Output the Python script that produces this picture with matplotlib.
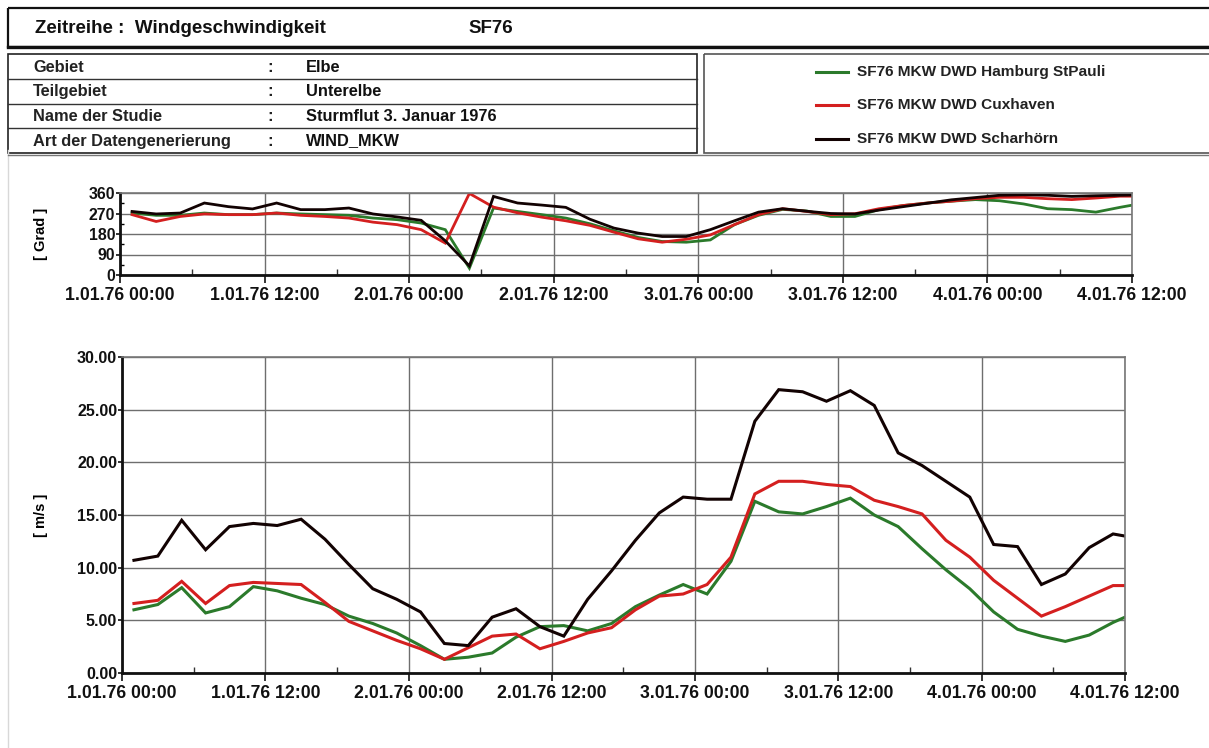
import matplotlib
matplotlib.use("Agg")
import matplotlib.pyplot as plt
from matplotlib.patches import Rectangle
from matplotlib.ticker import FormatStrFormatter, MultipleLocator

plt.rcParams['font.family'] = ['Liberation Sans', 'DejaVu Sans']

# ---------------- data ----------------
hours = [1, 3, 5, 7, 9, 11, 13, 15, 17, 19, 21, 23, 25, 27, 29, 31, 33, 35, 37, 39, 41,
         43, 45, 47, 49, 51, 53, 55, 57, 59, 61, 63, 65, 67, 69, 71, 73, 75, 77, 79, 81, 83, 85]

speed_scharhoern = [10.7, 11.1, 14.5, 11.7, 13.9, 14.2, 14.0, 14.6, 12.7, 10.3, 8.0, 7.0, 5.8, 2.8,
                    2.6, 5.3, 6.1, 4.4, 3.5, 7.0, 9.7, 12.6, 15.2, 16.7, 16.5, 16.5, 23.9, 26.9,
                    26.7, 25.8, 26.8, 25.4, 20.9, 19.7, 18.2, 16.7, 12.2, 12.0, 8.4, 9.4, 11.9,
                    13.2, 12.8]
speed_cuxhaven = [6.6, 6.9, 8.7, 6.6, 8.3, 8.6, 8.5, 8.4, 6.7, 4.9, 4.0, 3.1, 2.3, 1.3, 2.4, 3.5,
                  3.7, 2.3, 3.0, 3.8, 4.3, 6.0, 7.3, 7.5, 8.4, 11.0, 17.0, 18.2, 18.2, 17.9, 17.7,
                  16.4, 15.8, 15.1, 12.6, 11.0, 8.8, 7.1, 5.4, 6.3, 7.3, 8.3, 8.3]
speed_hamburg = [6.0, 6.5, 8.1, 5.7, 6.3, 8.2, 7.8, 7.1, 6.5, 5.4, 4.7, 3.8, 2.6, 1.3, 1.5, 1.9,
                 3.4, 4.4, 4.5, 4.0, 4.7, 6.3, 7.4, 8.4, 7.5, 10.6, 16.3, 15.3, 15.1, 15.8, 16.6,
                 15.0, 13.9, 11.8, 9.8, 8.0, 5.8, 4.15, 3.5, 3.0, 3.6, 4.8, 5.8]

dir_scharhoern = [279, 268, 272, 316, 300, 290, 316, 287, 287, 294, 268, 255, 240, 150, 40, 345,
                  316, 307, 297, 245, 206, 184, 169, 169, 199, 238, 276, 291, 280, 270, 268, 285,
                  300, 315, 330, 340, 350, 352, 350, 345, 348, 350, 352]
dir_cuxhaven = [265, 235, 257, 268, 265, 265, 272, 262, 257, 250, 232, 221, 199, 140, 358, 298,
                273, 254, 238, 218, 188, 159, 144, 157, 176, 221, 265, 291, 279, 265, 269, 291,
                305, 316, 324, 335, 341, 341, 335, 331, 338, 346, 346]
dir_hamburg = [272, 262, 262, 272, 265, 265, 272, 268, 265, 262, 250, 243, 228, 199, 30, 294,
               279, 265, 250, 225, 194, 165, 147, 144, 154, 221, 262, 288, 281, 257, 257, 287,
               305, 316, 324, 331, 326, 312, 291, 287, 276, 297, 316]

tick_hours = [0, 12, 24, 36, 48, 60, 72, 84]
tick_labels = ["1.01.76 00:00", "1.01.76 12:00", "2.01.76 00:00", "2.01.76 12:00",
               "3.01.76 00:00", "3.01.76 12:00", "4.01.76 00:00", "4.01.76 12:00"]

series_names = ["SF76 MKW DWD Hamburg StPauli", "SF76 MKW DWD Cuxhaven", "SF76 MKW DWD Scharhörn"]
series_colors = ["#2b7a2b", "#d41f1f", "#120202"]

header_labels = ["Gebiet", "Teilgebiet", "Name der Studie", "Art der Datengenerierung"]
header_values = ["Elbe", "Unterelbe", "Sturmflut 3. Januar 1976", "WIND_MKW"]

# ---------------- figure ----------------
W, H = 1209, 748
fig = plt.figure(figsize=(W / 100, H / 100), dpi=100)
fig.patch.set_facecolor("white")

# overlay in pixel coordinates for the header
ov = fig.add_axes([0, 0, 1, 1])
ov.set_xlim(0, W)
ov.set_ylim(H, 0)
ov.axis("off")
ov.set_zorder(0)

# left faint frame line
ov.plot([8, 8], [150, 748], color="#d8d8d8", lw=1.0)

# title box
ov.add_patch(Rectangle((8, 8), W + 10 - 8, 39, fill=False, ec="#111111", lw=1.6))
ov.plot([8, W], [47, 47], color="#111111", lw=2.4)
ov.text(35, 28, "Zeitreihe :  Windgeschwindigkeit", fontsize=13.5, fontweight="bold",
        va="center", ha="left", color="#111111")
ov.text(468, 28, "SF76", fontsize=13.5, fontweight="bold", va="center", ha="left", color="#111111")

# table box
ov.add_patch(Rectangle((8, 54), 689, 99, fill=False, ec="#222222", lw=1.2))
for yy in [79, 104, 128]:
    ov.plot([8, 697], [yy, yy], color="#333333", lw=1.0)
row_y = [67, 91, 116, 141]
for lab, val, yy in zip(header_labels, header_values, row_y):
    ov.text(33, yy, lab, fontsize=11.8, fontweight="bold", va="center", ha="left", color="#222222")
    ov.text(267, yy, ":", fontsize=11.8, fontweight="bold", va="center", ha="left", color="#222222")
    ov.text(306, yy, val, fontsize=11.8, fontweight="bold", va="center", ha="left", color="#111111")
ov.plot([8, W], [155, 155], color="#777777", lw=1.0)

# legend box
ov.add_patch(Rectangle((704, 54), W + 10 - 704, 99, fill=False, ec="#555555", lw=1.2))
leg_y = [72, 105, 139]
for name, col, yy in zip(series_names, series_colors, leg_y):
    ov.plot([816, 848], [yy, yy], color=col, lw=2.2)
    ov.text(857, yy, name, fontsize=11.1, fontweight="bold", va="center", ha="left", color="#222222")


def style_axes(ax):
    ax.set_xlim(0, 84)
    ax.set_xticks(tick_hours)
    ax.set_xticklabels(tick_labels)
    ax.xaxis.set_minor_locator(MultipleLocator(6))
    ax.grid(True, which="major", color="#6e6e6e", lw=1.0)
    ax.set_axisbelow(True)
    for s in ["left", "bottom"]:
        ax.spines[s].set_color("#111111")
        ax.spines[s].set_linewidth(2.0)
    for s in ["top", "right"]:
        ax.spines[s].set_color("#777777")
        ax.spines[s].set_linewidth(1.2)
    ax.tick_params(axis="x", which="major", direction="out", length=6, width=1.2,
                   labelsize=12.7, pad=3, colors="#111111")
    ax.tick_params(axis="x", which="minor", direction="in", length=4, width=1.0, colors="#333333")
    ax.tick_params(axis="y", which="major", direction="out", length=3, width=1.2, pad=0.5,
                   colors="#111111")
    for lab in ax.get_xticklabels() + ax.get_yticklabels():
        lab.set_fontweight("bold")


# top axes: direction
axt = fig.add_axes([120 / W, 1 - 275 / H, (1132 - 120) / W, (275 - 193) / H])
axt.set_zorder(2)
for vals, col in zip([dir_hamburg, dir_cuxhaven, dir_scharhoern], series_colors):
    axt.plot(hours, vals, color=col, lw=2.0, solid_joinstyle="miter")
axt.set_ylim(0, 360)
axt.set_yticks([0, 90, 180, 270, 360])
axt.yaxis.set_minor_locator(MultipleLocator(45))
style_axes(axt)
axt.tick_params(axis="y", which="major", labelsize=11.4)
axt.tick_params(axis="y", which="minor", direction="in", length=3, width=1.0)
for lab in axt.get_yticklabels():
    lab.set_fontweight("bold")
axt.set_ylabel("[ Grad ]", fontsize=10.5, fontweight="bold")
axt.yaxis.set_label_coords(-0.071, 0.5)

# bottom axes: speed
axb = fig.add_axes([122 / W, 1 - 673 / H, (1125 - 122) / W, (673 - 357) / H])
axb.set_zorder(2)
for vals, col in zip([speed_hamburg, speed_cuxhaven, speed_scharhoern], series_colors):
    axb.plot(hours, vals, color=col, lw=2.2, solid_joinstyle="miter")
axb.set_ylim(0, 30)
axb.set_yticks([0, 5, 10, 15, 20, 25, 30])
axb.yaxis.set_major_formatter(FormatStrFormatter("%.2f"))
style_axes(axb)
axb.tick_params(axis="y", which="major", labelsize=11.5)
for lab in axb.get_yticklabels():
    lab.set_fontweight("bold")
axb.set_ylabel("[ m/s ]", fontsize=10.5, fontweight="bold")
axb.yaxis.set_label_coords(-0.074, 0.5)

fig.savefig("out.png", dpi=100, facecolor="white")
